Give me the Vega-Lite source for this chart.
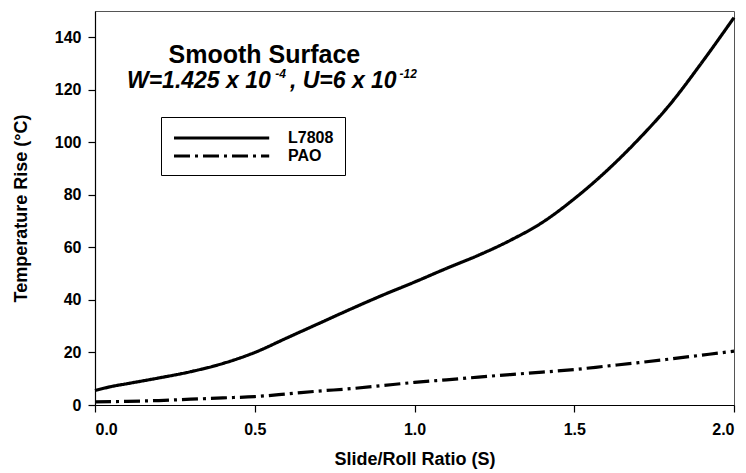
{
  "$schema": "https://vega.github.io/schema/vega-lite/v6.json",
  "autosize": {"type": "none"},
  "width": 639,
  "height": 394,
  "padding": {"left": 95, "top": 11, "right": 12, "bottom": 68},
  "background": "white",
  "config": {
    "font": "Liberation Sans",
    "view": {"stroke": "#555", "strokeWidth": 1},
    "axis": {
      "grid": false,
      "domainColor": "black",
      "domainWidth": 1.2,
      "tickColor": "black",
      "tickWidth": 1.2,
      "tickSize": 7,
      "labelFont": "Liberation Sans",
      "labelFontWeight": "bold",
      "labelFontSize": 16,
      "labelColor": "black",
      "titleFont": "Liberation Sans",
      "titleFontWeight": "bold",
      "titleFontSize": 18,
      "titleColor": "black"
    },
    "legend": {
      "orient": "none",
      "legendX": 66,
      "legendY": 106,
      "strokeColor": "black",
      "padding": 11,
      "symbolType": "M-1,0H10.9",
      "symbolSize": 256,
      "symbolStrokeWidth": 3.2,
      "symbolStrokeColor": "black",
      "labelFont": "Liberation Sans",
      "labelFontWeight": "bold",
      "labelFontSize": 16,
      "labelColor": "black",
      "labelOffset": 96,
      "rowPadding": 0,
      "title": null
    }
  },
  "datasets": {
    "curves": [
      {"s": 0.0, "t": 5.5, "fluid": "L7808"},
      {"s": 0.05, "t": 7.0, "fluid": "L7808"},
      {"s": 0.1, "t": 8.1, "fluid": "L7808"},
      {"s": 0.2, "t": 10.3, "fluid": "L7808"},
      {"s": 0.3, "t": 12.7, "fluid": "L7808"},
      {"s": 0.4, "t": 15.8, "fluid": "L7808"},
      {"s": 0.5, "t": 20.0, "fluid": "L7808"},
      {"s": 0.6, "t": 25.5, "fluid": "L7808"},
      {"s": 0.7, "t": 31.0, "fluid": "L7808"},
      {"s": 0.8, "t": 36.5, "fluid": "L7808"},
      {"s": 0.9, "t": 41.8, "fluid": "L7808"},
      {"s": 1.0, "t": 46.8, "fluid": "L7808"},
      {"s": 1.1, "t": 52.0, "fluid": "L7808"},
      {"s": 1.2, "t": 57.0, "fluid": "L7808"},
      {"s": 1.3, "t": 62.7, "fluid": "L7808"},
      {"s": 1.4, "t": 69.5, "fluid": "L7808"},
      {"s": 1.5, "t": 78.5, "fluid": "L7808"},
      {"s": 1.6, "t": 89.0, "fluid": "L7808"},
      {"s": 1.7, "t": 101.0, "fluid": "L7808"},
      {"s": 1.8, "t": 114.5, "fluid": "L7808"},
      {"s": 1.9, "t": 130.5, "fluid": "L7808"},
      {"s": 2.0, "t": 147.5, "fluid": "L7808"},
      {"s": 0.0, "t": 1.2, "fluid": "PAO"},
      {"s": 0.1, "t": 1.4, "fluid": "PAO"},
      {"s": 0.2, "t": 1.7, "fluid": "PAO"},
      {"s": 0.3, "t": 2.2, "fluid": "PAO"},
      {"s": 0.4, "t": 2.7, "fluid": "PAO"},
      {"s": 0.5, "t": 3.2, "fluid": "PAO"},
      {"s": 0.6, "t": 4.2, "fluid": "PAO"},
      {"s": 0.7, "t": 5.3, "fluid": "PAO"},
      {"s": 0.8, "t": 6.2, "fluid": "PAO"},
      {"s": 0.9, "t": 7.4, "fluid": "PAO"},
      {"s": 1.0, "t": 8.6, "fluid": "PAO"},
      {"s": 1.1, "t": 9.6, "fluid": "PAO"},
      {"s": 1.2, "t": 10.6, "fluid": "PAO"},
      {"s": 1.3, "t": 11.6, "fluid": "PAO"},
      {"s": 1.4, "t": 12.5, "fluid": "PAO"},
      {"s": 1.5, "t": 13.5, "fluid": "PAO"},
      {"s": 1.6, "t": 14.8, "fluid": "PAO"},
      {"s": 1.7, "t": 16.1, "fluid": "PAO"},
      {"s": 1.8, "t": 17.5, "fluid": "PAO"},
      {"s": 1.9, "t": 19.0, "fluid": "PAO"},
      {"s": 2.0, "t": 20.5, "fluid": "PAO"}
    ],
    "heading": [
      {"s": 0.53, "t": 130.3, "label": "Smooth Surface"}
    ],
    "formula": [
      {"s": 0.1, "t": 120.7, "label": "W=1.425 x 10"},
      {"s": 0.61, "t": 120.7, "label": ", U=6 x 10"}
    ],
    "exponents": [
      {"s": 0.564, "t": 124.5, "label": "-4"},
      {"s": 0.953, "t": 124.5, "label": "-12"}
    ]
  },
  "layer": [
    {
      "data": {"name": "curves"},
      "mark": {"type": "line", "interpolate": "monotone", "strokeWidth": 3.2, "color": "black", "strokeCap": "butt"},
      "encoding": {
        "x": {
          "field": "s", "type": "quantitative",
          "scale": {"domain": [0, 2], "nice": false},
          "axis": {"values": [0, 0.5, 1, 1.5, 2], "format": ".1f", "title": "Slide/Roll Ratio (S)", "labelPadding": 9, "titlePadding": 13}
        },
        "y": {
          "field": "t", "type": "quantitative",
          "scale": {"domain": [0, 150], "nice": false},
          "axis": {"values": [0, 20, 40, 60, 80, 100, 120, 140], "title": "Temperature Rise (°C)", "labelPadding": 7, "titlePadding": 24}
        },
        "strokeDash": {
          "field": "fluid", "type": "nominal",
          "scale": {"domain": ["L7808", "PAO"], "range": [[1, 0], [16, 5, 3, 5]]},
          "legend": {"title": null}
        }
      }
    },
    {
      "data": {"name": "heading"},
      "mark": {"type": "text", "font": "Liberation Sans", "fontWeight": "bold", "fontSize": 25, "align": "center", "baseline": "alphabetic", "color": "black"},
      "encoding": {
        "x": {"field": "s", "type": "quantitative"},
        "y": {"field": "t", "type": "quantitative"},
        "text": {"field": "label"}
      }
    },
    {
      "data": {"name": "formula"},
      "mark": {"type": "text", "font": "Liberation Sans", "fontWeight": "bold", "fontStyle": "italic", "fontSize": 23, "align": "left", "baseline": "alphabetic", "color": "black"},
      "encoding": {
        "x": {"field": "s", "type": "quantitative"},
        "y": {"field": "t", "type": "quantitative"},
        "text": {"field": "label"}
      }
    },
    {
      "data": {"name": "exponents"},
      "mark": {"type": "text", "font": "Liberation Sans", "fontWeight": "bold", "fontStyle": "italic", "fontSize": 12, "align": "left", "baseline": "alphabetic", "color": "black"},
      "encoding": {
        "x": {"field": "s", "type": "quantitative"},
        "y": {"field": "t", "type": "quantitative"},
        "text": {"field": "label"}
      }
    }
  ]
}
